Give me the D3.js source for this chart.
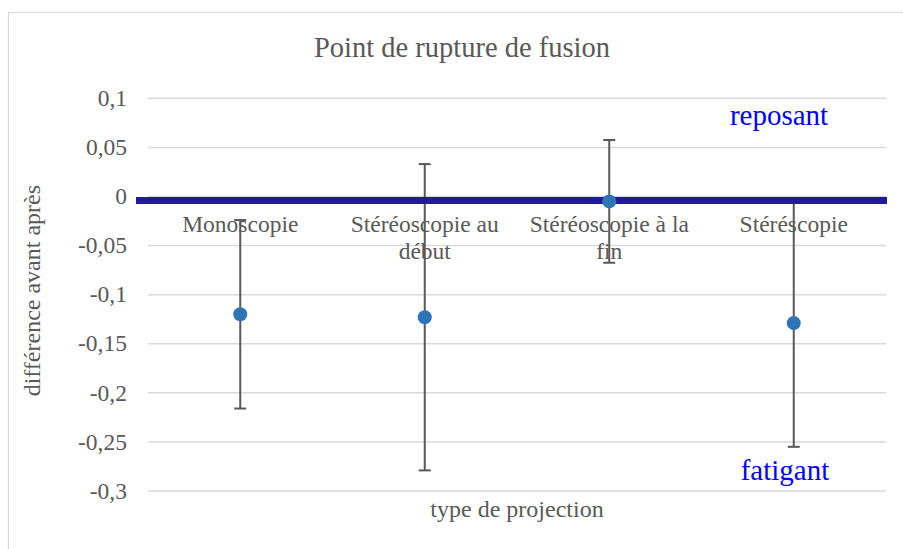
<!DOCTYPE html>
<html>
<head>
<meta charset="utf-8">
<script src="https://cdn.jsdelivr.net/npm/d3@7"></script>
<style>
	body { margin: 0; background: #fff; }
	text { font-family: "Liberation Serif", "Times New Roman", serif; }
</style>
</head>
<body>
<div id="chart"></div>
<script>
/* chart data */
var categories = ["Monoscopie", "Stéréoscopie au début", "Stéréoscopie à la fin", "Stéréscopie"];
var means = [-0.120, -0.123, -0.005, -0.129];
var errors = [0.096, 0.156, 0.0625, 0.126];
var yTicks = [0.1, 0.05, 0, -0.05, -0.1, -0.15, -0.2, -0.25, -0.3];

var width = 903,
	height = 549;

var svg = d3.select("#chart").append("svg")
	.attr("width", width)
	.attr("height", height);

// chart border
svg.append("rect")
	.attr("x", 8.5).attr("y", 12.5)
	.attr("width", 900).attr("height", 545)
	.attr("fill", "none")
	.attr("stroke", "#d9d9d9")
	.attr("stroke-width", 1.2);

var x = d3.scaleBand().domain(categories).range([148, 886]);
var y = d3.scaleLinear().domain([-0.3, 0.1]).range([491, 98.3]);

// excel style: comma decimal, plain hyphen
var fmt = function(d) { return String(+d.toFixed(2)).replace(".", ","); };

/* gridlines */
svg.append("g").selectAll("line")
	.data(yTicks)
	.enter().append("line")
	.attr("x1", 148).attr("x2", 886)
	.attr("y1", function(d) { return y(d); })
	.attr("y2", function(d) { return y(d); })
	.attr("stroke", "#d9d9d9")
	.attr("stroke-width", 1.5);

/* tick labels */
svg.append("g").selectAll("text")
	.data(yTicks)
	.enter().append("text")
	.attr("x", 127)
	.attr("y", function(d) { return y(d); })
	.attr("dy", "0.33em")
	.attr("text-anchor", "end")
	.attr("font-size", 23.5)
	.attr("fill", "#595959")
	.text(fmt);

/* category labels, wrapped like excel */
var catLabels = svg.append("g").selectAll("text")
	.data(categories)
	.enter().append("text")
	.attr("text-anchor", "middle")
	.attr("font-size", 23.5)
	.attr("fill", "#595959")
	.attr("x", function(d) { return x(d) + x.bandwidth() / 2; })
	.attr("y", y(0) + 36);

catLabels.each(function(d) {
	var el = d3.select(this),
		words = d.split(" "),
		line = [],
		cx = el.attr("x");
	var tspan = el.append("tspan").attr("x", cx).attr("dy", 0);
	words.forEach(function(w) {
		line.push(w);
		tspan.text(line.join(" "));
		if (tspan.node().getComputedTextLength() > 178 && line.length > 1) {
			line.pop();
			tspan.text(line.join(" "));
			line = [w];
			tspan = el.append("tspan").attr("x", cx).attr("dy", 26.5).text(w);
		}
	});
});

/* error bars */
var bars = svg.append("g").selectAll("g")
	.data(categories)
	.enter().append("g")
	.attr("stroke", "#595959")
	.attr("stroke-width", 2);

bars.append("line")
	.attr("x1", function(d) { return x(d) + x.bandwidth() / 2; })
	.attr("x2", function(d) { return x(d) + x.bandwidth() / 2; })
	.attr("y1", function(d, i) { return y(means[i] + errors[i]); })
	.attr("y2", function(d, i) { return y(means[i] - errors[i]); });

[1, -1].forEach(function(s) {
	bars.append("line")
		.attr("x1", function(d) { return x(d) + x.bandwidth() / 2 - 6; })
		.attr("x2", function(d) { return x(d) + x.bandwidth() / 2 + 6; })
		.attr("y1", function(d, i) { return y(means[i] + s * errors[i]); })
		.attr("y2", function(d, i) { return y(means[i] + s * errors[i]); });
});

/* thick zero line drawn over the chart */
svg.append("line")
	.attr("x1", 136).attr("x2", 887)
	.attr("y1", y(0) + 4).attr("y2", y(0) + 4)
	.attr("stroke", "#2119a0")
	.attr("stroke-width", 7);

/* points */
svg.append("g").selectAll("circle")
	.data(categories)
	.enter().append("circle")
	.attr("cx", function(d) { return x(d) + x.bandwidth() / 2; })
	.attr("cy", function(d, i) { return y(means[i]); })
	.attr("r", 7)
	.attr("fill", "#2e75b6");

/* titles */
svg.append("text")
	.attr("x", 462).attr("y", 57)
	.attr("text-anchor", "middle")
	.attr("font-size", 28.5)
	.attr("fill", "#595959")
	.text("Point de rupture de fusion");

svg.append("text")
	.attr("x", 517).attr("y", 517)
	.attr("text-anchor", "middle")
	.attr("font-size", 24)
	.attr("fill", "#595959")
	.text("type de projection");

svg.append("text")
	.attr("transform", "translate(40," + (y(-0.1) - 4) + ") rotate(-90)")
	.attr("text-anchor", "middle")
	.attr("font-size", 24)
	.attr("fill", "#595959")
	.text("différence avant après");

/* annotations */
svg.append("text")
	.attr("x", 779).attr("y", 125)
	.attr("text-anchor", "middle")
	.attr("font-size", 29)
	.attr("fill", "#0000ff")
	.text("reposant");

svg.append("text")
	.attr("x", 785).attr("y", 480)
	.attr("text-anchor", "middle")
	.attr("font-size", 29)
	.attr("fill", "#0000ff")
	.text("fatigant");
</script>
</body>
</html>
